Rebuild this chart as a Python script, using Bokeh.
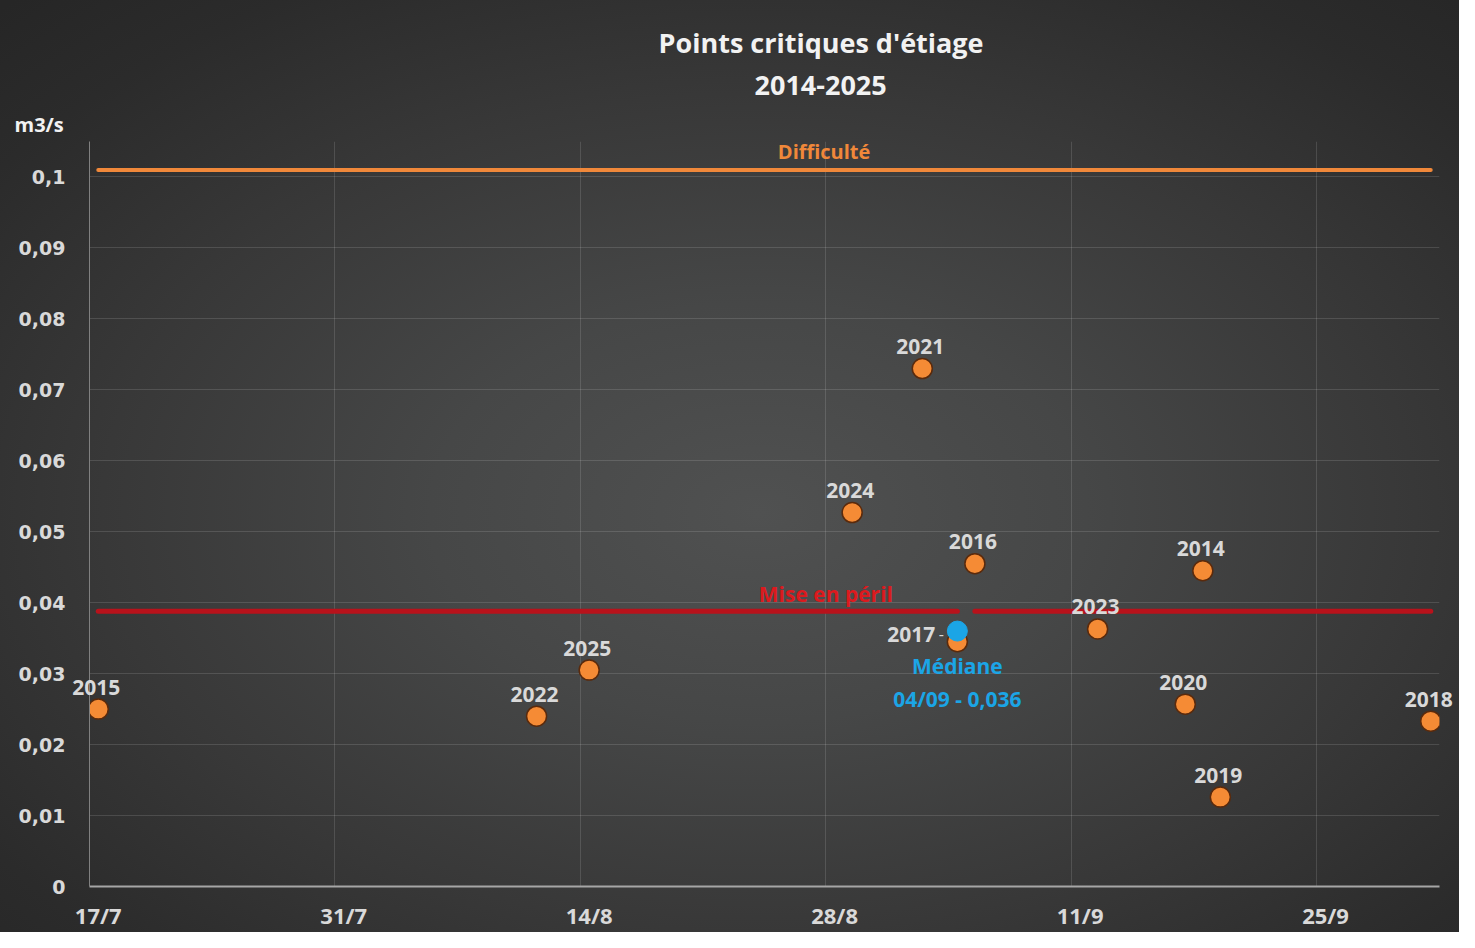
import pandas as pd
from bokeh.plotting import figure
from bokeh.models import ColumnDataSource, FixedTicker, CustomJSTickFormatter, Label, Title
from bokeh.core.properties import value
from bokeh.embed import file_html
from bokeh.resources import INLINE

# ---------------- data ----------------
title_lines = ["Points critiques d'étiage", "2014-2025"]
y_unit = "m3/s"

years = ["2014", "2015", "2016", "2017", "2018", "2019",
         "2020", "2021", "2022", "2023", "2024", "2025"]
dates = ["18/09", "17/07", "05/09", "04/09", "01/10", "19/09",
         "17/09", "02/09", "11/08", "12/09", "29/08", "14/08"]
flows = [0.0445, 0.025, 0.0455, 0.0345, 0.0233, 0.0126,
         0.0257, 0.073, 0.024, 0.0363, 0.0527, 0.0305]

median_label = "Médiane"
median_date = "04/09"
median_flow = 0.036

difficulte_label = "Difficulté"
difficulte_flow = 0.101
difficulte_dates = ["17/07", "01/10"]

peril_label = "Mise en péril"
peril_flow = 0.0388
peril_segments = [["17/07", "04/09"], ["05/09", "01/10"]]

x_tick_labels = ["17/7", "31/7", "14/8", "28/8", "11/9", "25/9"]
y_ticks = [0, 0.01, 0.02, 0.03, 0.04, 0.05, 0.06, 0.07, 0.08, 0.09, 0.1]

left_labelled_years = ["2017"]

# ---------------- helpers ----------------
ORIGIN = pd.Timestamp(2001, 7, 17)


def day(s):
    d, m = s.split("/")[:2]
    return (pd.Timestamp(2001, int(m), int(d)) - ORIGIN).days


x_ticks = [day(s) for s in x_tick_labels]
xs = [day(s) for s in dates]

FONT = value("Open Sans")
LABEL_COL = "#d9d9d9"
ORANGE = "#f58b35"
BLUE = "#1ba5e6"
RED = "#b8121b"
ORANGE_LINE = "#f0883a"

p = figure(width=1459, height=932, output_backend="svg", toolbar_location=None,
           x_range=(-0.5, 76.5), y_range=(0, 0.105),
           min_border_left=89, min_border_right=20, min_border_top=141,
           min_border_bottom=46)

p.styles = {"background": "radial-gradient(ellipse 75% 75% at 52% 55%, #505151 0%, #464747 30%, #383838 60%, #2b2b2b 85%, #262626 100%)"}
p.background_fill_alpha = 0
p.border_fill_alpha = 0
p.outline_line_color = None

# axes
p.xaxis.ticker = FixedTicker(ticks=x_ticks)
p.xaxis.major_label_overrides = {t: l for t, l in zip(x_ticks, x_tick_labels)}
p.xaxis.major_tick_line_color = None
p.xaxis.major_tick_out = 0
p.xaxis.major_tick_in = 0
p.xaxis.minor_tick_line_color = None
p.xaxis.axis_line_color = "#a6a6a6"
p.xaxis.axis_line_width = 2
p.xaxis.major_label_text_color = LABEL_COL
p.xaxis.major_label_text_font = "Open Sans"
p.xaxis.major_label_text_font_style = "bold"
p.xaxis.major_label_text_font_size = "22px"
p.xaxis.major_label_standoff = 13

p.yaxis.ticker = FixedTicker(ticks=y_ticks)
p.yaxis.formatter = CustomJSTickFormatter(code="""
    let s = tick.toFixed(2).replace(/0+$/, '').replace(/\\.$/, '');
    return s.replace('.', ',');
""")
p.yaxis.major_tick_line_color = None
p.yaxis.major_tick_out = 0
p.yaxis.major_tick_in = 0
p.yaxis.minor_tick_line_color = None
p.yaxis.axis_line_color = "#808080"
p.yaxis.axis_line_width = 1
p.yaxis.major_label_text_color = LABEL_COL
p.yaxis.major_label_text_font = "DejaVu Sans"
p.yaxis.major_label_text_font_style = "bold"
p.yaxis.major_label_text_font_size = "19px"
p.yaxis.major_label_standoff = 24

# grids
p.xgrid.ticker = FixedTicker(ticks=[t - 0.5 for t in x_ticks])
p.xgrid.grid_line_color = "#ffffff"
p.xgrid.grid_line_alpha = 0.13
p.ygrid.grid_line_color = "#ffffff"
p.ygrid.grid_line_alpha = 0.13

# threshold lines
p.line([day(s) for s in difficulte_dates], [difficulte_flow] * 2,
       line_color=ORANGE_LINE, line_width=4, line_cap="round")
for seg in peril_segments:
    p.line([day(s) for s in seg], [peril_flow] * 2,
           line_color=RED, line_width=5, line_cap="round")

# points
src = ColumnDataSource(dict(x=xs, y=flows, year=years))
p.scatter("x", "y", source=src, size=20, fill_color=ORANGE,
          line_color="#5a2a0c", line_width=1.5)

# median point
p.scatter([day(median_date)], [median_flow], size=20, fill_color=BLUE,
          line_color=BLUE, line_width=1)

# point labels
top_idx = [i for i, y in enumerate(years) if y not in left_labelled_years]
left_idx = [i for i, y in enumerate(years) if y in left_labelled_years]
top_src = ColumnDataSource(dict(x=[xs[i] for i in top_idx],
                                y=[flows[i] for i in top_idx],
                                year=[years[i] for i in top_idx]))
left_src = ColumnDataSource(dict(x=[xs[i] for i in left_idx],
                                 y=[flows[i] for i in left_idx],
                                 year=[years[i] for i in left_idx]))
p.text("x", "y", text="year", source=top_src, text_align="center",
       text_baseline="middle", y_offset=-22, x_offset=-2,
       text_color=LABEL_COL, text_font=FONT, text_font_style="bold",
       text_font_size="21px", level="overlay")
p.text("x", "y", text="year", source=left_src, text_align="right",
       text_baseline="middle", y_offset=-7, x_offset=-22,
       text_color=LABEL_COL, text_font=FONT, text_font_style="bold",
       text_font_size="21px")
# leader line for left-labelled point
p.text("x", "y", text=value("-"), source=left_src, text_align="center",
       text_baseline="middle", y_offset=-8, x_offset=-16,
       text_color=LABEL_COL, text_font=FONT, text_font_size="16px")

# median labels
median_value_text = f"{median_date} - {str(median_flow).replace('.', ',')}"
p.text([day(median_date)], [median_flow], text=[median_label],
       text_align="center", text_baseline="middle", y_offset=35,
       text_color=BLUE, text_font=FONT, text_font_style="bold",
       text_font_size="21px")
p.text([day(median_date)], [median_flow], text=[median_value_text],
       text_align="center", text_baseline="middle", y_offset=68,
       text_color=BLUE, text_font=FONT, text_font_style="bold",
       text_font_size="21px")

# threshold labels
p.add_layout(Label(x=41.4, y=difficulte_flow, text=difficulte_label,
                   y_offset=18, text_align="center", text_baseline="middle",
                   text_color=ORANGE_LINE, text_font="Open Sans",
                   text_font_style="bold", text_font_size="20px"))
p.add_layout(Label(x=41.5, y=peril_flow, text=peril_label,
                   y_offset=17, text_align="center", text_baseline="middle",
                   text_color="#dc1a1e", text_font="Open Sans",
                   text_font_style="bold", text_font_size="21px"))

# unit and title (stacked above the frame, nearest first)
p.add_layout(Title(text=y_unit, align="left", offset=-75, standoff=8,
                   text_color="#f2f2f2", text_font="Open Sans",
                   text_font_style="bold", text_font_size="20px"), "above")
p.add_layout(Title(text=title_lines[1], align="left", offset=665, standoff=19,
                   text_color="#f2f2f2", text_font="Open Sans",
                   text_font_style="bold", text_font_size="27px"), "above")
p.add_layout(Title(text=title_lines[0], align="left", offset=569, standoff=7,
                   text_color="#f2f2f2", text_font="Open Sans",
                   text_font_style="bold", text_font_size="27px"), "above")

open("out.html", "w").write(file_html(p, INLINE))
